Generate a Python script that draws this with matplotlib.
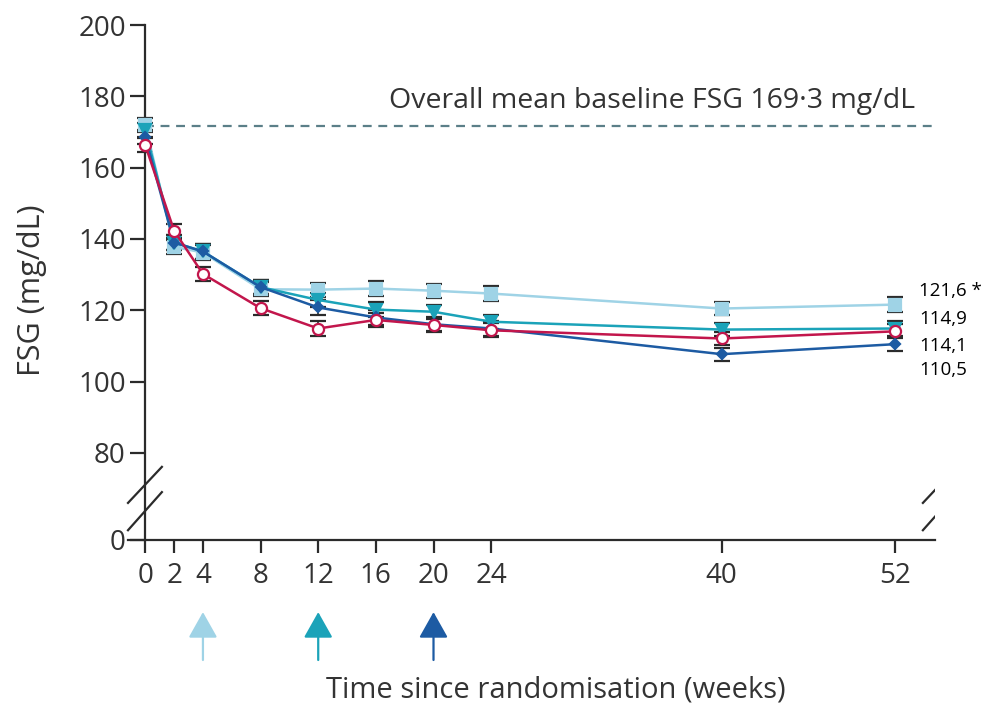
import numpy as np
import matplotlib
matplotlib.use("Agg")
import matplotlib.pyplot as plt
import matplotlib.transforms as mtransforms

plt.rcParams['font.family'] = ['Open Sans', 'DejaVu Sans']

# weeks since randomisation
weeks = [0, 2, 4, 8, 12, 16, 20, 24, 40, 52]

# mean FSG (mg/dL) per group
fsg_light = [172.0, 137.8, 136.2, 125.9, 125.8, 126.1, 125.5, 124.7, 120.5, 121.6]
fsg_teal = [170.5, 139.0, 136.5, 126.5, 122.9, 120.2, 119.6, 116.8, 114.6, 114.9]
fsg_dark = [168.5, 139.0, 136.5, 126.5, 120.8, 118.0, 116.1, 114.9, 107.7, 110.5]
fsg_red = [166.3, 142.3, 130.2, 120.6, 114.9, 117.3, 115.9, 114.4, 112.1, 114.1]

# standard errors
se_light = [2.0, 2.0, 2.0, 2.0, 2.0, 2.0, 2.0, 2.0, 1.9, 2.1]
se_teal = [2.0, 2.0, 2.0, 2.0, 2.0, 2.0, 2.0, 2.0, 1.9, 2.0]
se_dark = [2.0, 2.0, 2.0, 2.0, 2.0, 2.0, 2.0, 2.0, 1.8, 1.9]
se_red = [2.0, 2.0, 2.0, 2.0, 2.0, 2.0, 2.0, 2.0, 1.9, 2.0]

end_labels = ['121,6 *', '114,9', '114,1', '110,5']
end_label_y = [125.4, 117.5, 110.0, 103.2]

baseline = 171.6
baseline_text = 'Overall mean baseline FSG 169\u00b73 mg/dL'
arrow_weeks = [4, 12, 20]

LIGHT = '#9fd3e6'
TEAL = '#1ba3b9'
DARK = '#1d5ba3'
RED = '#c2164c'
INK = '#2b2b2b'

# compress the 0-80 part of the y axis (axis break)
K = 0.305


def fwd(y):
    y = np.asarray(y, dtype=float)
    return np.where(y >= 80, y, 80 - (80 - y) * K)


def inv(t):
    t = np.asarray(t, dtype=float)
    return np.where(t >= 80, t, 80 - (80 - t) / K)


fig = plt.figure(figsize=(9.85, 7.11), dpi=100)
ax = fig.add_axes([128 / 985, 1 - 540 / 711, 807 / 985, 515 / 711])
ax.set_yscale('function', functions=(fwd, inv))
ax.set_xlim(-1.2, 54.8)
ax.set_ylim(0, 200)

# baseline
ax.plot([0, 54.8], [baseline, baseline], ls=(0, (4, 3)), color='#5b7f88', lw=1.6, zorder=1)
ax.text(16.9, baseline + 3.2, baseline_text, fontsize=20.5, color='#333333', va='bottom', ha='left')

series = [
    (fsg_light, se_light, LIGHT, 's', LIGHT),
    (fsg_teal, se_teal, TEAL, 'v', TEAL),
    (fsg_dark, se_dark, DARK, 'D', DARK),
    (fsg_red, se_red, RED, 'o', 'white'),
]
for vals, err, col, mk, face in series:
    ax.errorbar(weeks, vals, yerr=err, color=col, lw=1.8, marker=mk, ms=8 if mk != 'D' else 5.5,
                mfc=face, mec=col, mew=1.6, ecolor=INK, elinewidth=1.2,
                capsize=5.5, capthick=2.4, zorder=3)

for lab, yv in zip(end_labels, end_label_y):
    ax.text(53.7, yv, lab, fontsize=13.5, va='center', ha='left', color='black', clip_on=False)

# spines and ticks
for s in ['top', 'right']:
    ax.spines[s].set_visible(False)
ax.spines['left'].set_position(('data', 0))
for s in ['left', 'bottom']:
    ax.spines[s].set_linewidth(1.6)
    ax.spines[s].set_color(INK)

ax.set_xticks(weeks)
ax.set_xticklabels([str(w) for w in weeks])
ax.set_yticks([0, 80, 100, 120, 140, 160, 180, 200])
ax.tick_params(axis='y', length=11, width=1.6, color=INK, labelsize=20, pad=3, labelcolor='#333333')
ax.tick_params(axis='x', length=9, width=1.6, color=INK, labelsize=20, pad=7, labelcolor='#333333')

# axis break marks
for yb in [(0.072, 0.142), (0.019, 0.093)]:
    ax.plot([0.0, 0.042], yb, transform=ax.transAxes, color=INK, lw=1.6, clip_on=False)
    ax.plot([0.985, 1.027], yb, transform=ax.transAxes, color=INK, lw=1.6, clip_on=True)

# dosing arrows
trans = mtransforms.blended_transform_factory(ax.transData, ax.transAxes)
for w, col in zip(arrow_weeks, [LIGHT, TEAL, DARK]):
    ax.annotate('', xy=(w, -0.14), xytext=(w, -0.233), xycoords=trans, textcoords=trans,
                arrowprops=dict(arrowstyle='-|>,head_length=1.6,head_width=0.9',
                                color=col, lw=1.6, shrinkA=0, shrinkB=0))

fig.text(556 / 985, 1 - 690 / 711, 'Time since randomisation (weeks)', fontsize=21,
         ha='center', va='center', color='#333333')
fig.text(32 / 985, 1 - 290 / 711, 'FSG (mg/dL)', fontsize=22, rotation=90,
         ha='center', va='center', color='#333333')

fig.savefig('out.png', dpi=100)
